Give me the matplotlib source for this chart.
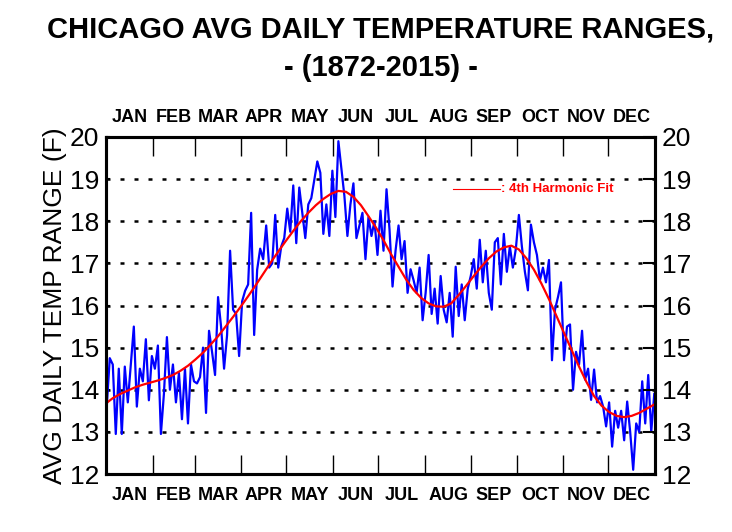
import numpy as np
import matplotlib
matplotlib.use("Agg")
import matplotlib.pyplot as plt
import matplotlib.transforms as mtransforms

# === data (day of year, every 2nd day) ===
daily_range = [
    13.6, 14.75, 14.6, 12.95, 14.5, 12.95, 14.55, 13.7, 14.6, 15.5,
    13.6, 14.5, 14.2, 15.2, 13.75, 14.8, 14.5, 15.05, 12.95, 13.9,
    15.25, 14.0, 14.6, 13.7, 14.4, 13.3, 14.5, 13.2, 14.6, 14.2,
    14.15, 14.3, 15.0, 13.45, 15.4, 14.9, 14.35, 16.2, 15.5, 14.5,
    15.3, 17.3, 15.9, 15.8, 14.8, 16.1, 16.35, 16.5, 18.2, 15.3,
    16.85, 17.35, 17.1, 17.9, 16.9, 17.0, 18.15, 16.9, 17.4, 17.6,
    18.3, 17.75, 18.85, 17.48, 18.8, 18.2, 17.6, 18.4, 18.55, 18.98,
    19.42, 19.15, 17.7, 18.4, 17.65, 19.2, 18.1, 19.9, 19.25, 18.6,
    17.65, 18.4, 18.9, 17.6, 17.9, 18.2, 17.1, 18.1, 17.65, 18.0,
    17.2, 18.25, 17.3, 18.76, 17.8, 16.45, 17.3, 17.9, 17.1, 17.53,
    16.3, 16.86, 16.6, 16.3, 16.9, 15.65, 16.3, 17.2, 15.8, 16.4,
    15.57, 16.7, 15.9, 15.6, 16.3, 15.26, 16.92, 15.75, 16.5, 15.65,
    16.4, 16.7, 17.1, 16.4, 17.56, 16.55, 17.3, 16.3, 15.9, 17.5,
    17.6, 16.5, 17.7, 16.8, 17.4, 16.9, 17.35, 18.15, 17.4, 16.8,
    16.36, 17.92, 17.5, 17.2, 16.6, 16.9, 16.55, 17.08, 14.7, 15.9,
    16.2, 16.55, 14.7, 15.5, 15.55, 14.0, 14.9, 14.6, 15.4, 14.24,
    14.5, 13.76, 14.48, 13.7, 13.85, 13.6, 13.13, 13.7, 12.65, 13.5,
    13.1, 13.5, 12.8, 13.72, 13.0, 12.1, 13.2, 13.0, 14.2, 13.2,
    14.35, 13.0, 13.9,
]
days = np.arange(1, 2 * len(daily_range), 2)

fit_days = [1] + list(range(5, 366, 5))
fit_vals = [
    13.69, 13.80, 13.90, 13.98, 14.06, 14.12, 14.17, 14.22, 14.28, 14.35,
    14.45, 14.57, 14.72, 14.88, 15.07, 15.27, 15.50, 15.73, 15.97, 16.22,
    16.48, 16.75, 17.02, 17.28, 17.53, 17.77, 18.00, 18.20, 18.38, 18.53,
    18.65, 18.72, 18.70, 18.58, 18.38, 18.12, 17.85, 17.55, 17.22, 16.92,
    16.62, 16.37, 16.18, 16.05, 15.98, 15.97, 16.05, 16.25, 16.47, 16.70,
    16.92, 17.12, 17.28, 17.38, 17.42, 17.33, 17.12, 16.85, 16.52, 16.15,
    15.75, 15.35, 14.95, 14.55, 14.18, 13.85, 13.62, 13.47, 13.38, 13.35,
    13.38, 13.45, 13.55, 13.65,
]

months = ["JAN", "FEB", "MAR", "APR", "MAY", "JUN",
          "JUL", "AUG", "SEP", "OCT", "NOV", "DEC"]
month_days = [31, 28, 31, 30, 31, 30, 31, 31, 30, 31, 30, 31]

FONT = ["Liberation Sans", "DejaVu Sans"]
plt.rcParams["font.family"] = FONT

fig = plt.figure(figsize=(7.32, 5.32), dpi=100)
ax = fig.add_axes([106 / 732, 58 / 532, 549 / 732, 337 / 532])

ax.plot(days, daily_range, color="#0000ff", linewidth=1.6, zorder=3)
ax.plot(fit_days, fit_vals, color="#ff0000", linewidth=1.6, zorder=4)

ax.set_xlim(0.5, 365.5)
ax.set_ylim(12, 20)

# dotted horizontal grid
for v in range(13, 20):
    ax.axhline(v, color="black", linewidth=1.8, linestyle=(0, (1.6, 4.0)), zorder=1)

# month boundary ticks, inward, top and bottom
bounds = np.cumsum(month_days)[:-1] + 0.5
ax.set_xticks(bounds)
ax.set_xticklabels([])
ax.tick_params(axis="x", direction="in", length=14, width=1.0,
               top=True, bottom=True)

ax.set_yticks(range(12, 21))
ax.tick_params(axis="y", direction="in", length=3, width=1.5, labelsize=19, pad=5)
ax2 = ax.twinx()
ax2.set_ylim(12, 20)
ax2.set_yticks(range(12, 21))
ax2.tick_params(axis="y", direction="in", length=9, width=1.5, labelsize=19, pad=5)

for a in (ax, ax2):
    for s in a.spines.values():
        s.set_linewidth(2.2)

ax.set_ylabel("AVG DAILY TEMP RANGE (F)", fontsize=19, labelpad=2)

# month names centered between boundaries
starts = np.concatenate([[0.5], bounds])
ends = np.concatenate([bounds, [365.5]])
centers = (starts + ends) / 2
trans = mtransforms.blended_transform_factory(ax.transData, fig.transFigure)
for c, m in zip(centers, months):
    ax.text(c, 1 - 117 / 532, m, transform=trans, ha="center", va="center",
            fontsize=13, fontweight="bold")
    ax.text(c, 1 - 495 / 532, m, transform=trans, ha="center", va="center",
            fontsize=13, fontweight="bold")

# legend
ax.plot([0.632, 0.717], [0.846, 0.846], transform=ax.transAxes,
        color="#ff0000", linewidth=0.8, zorder=5)
ax.text(0.72, 0.846, ": 4th Harmonic Fit", transform=ax.transAxes,
        color="#ff0000", fontsize=9.5, fontweight="bold", va="center", ha="left")

fig.text(381 / 732, 1 - 30 / 532, "CHICAGO AVG DAILY TEMPERATURE RANGES,",
         ha="center", va="center", fontsize=21, fontweight="bold")
fig.text(381 / 732, 1 - 68 / 532, "- (1872-2015) -",
         ha="center", va="center", fontsize=21, fontweight="bold")

fig.savefig("out.png", dpi=100, facecolor="white")
